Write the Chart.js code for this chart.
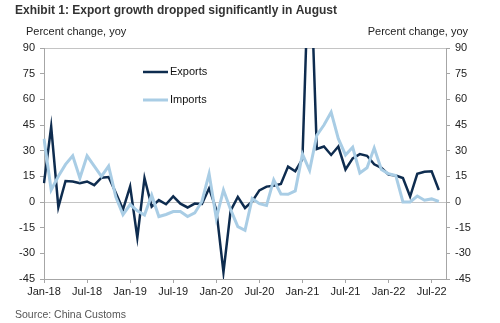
<!DOCTYPE html>
<html>
<head>
<meta charset="utf-8">
<script src="https://cdn.jsdelivr.net/npm/chart.js@4/dist/chart.umd.min.js"></script>
<style>
  body { margin: 0; background: #fff; }
  #wrap { width: 500px; height: 323px; }
</style>
</head>
<body>
<div id="wrap"><canvas id="grafico" width="500" height="323"></canvas></div>
<script>
// ---------------- data ----------------
const mesi = [];
const nomiMesi = ["Jan","Feb","Mar","Apr","May","Jun","Jul","Aug","Sep","Oct","Nov","Dec"];
for (let a = 18; a <= 22; a++) {
    for (let m = 0; m < 12; m++) {
        if (a === 22 && m > 8) break;
        mesi.push(nomiMesi[m] + "-" + a);
    }
}
// Jan-18 .. Aug-22 (last category Sep-22 is empty space)
const exports = [11, 44, -3, 12.3, 12, 11, 12, 9.8, 14.2, 14.6, 5.4, -4.4,
    9.1, -20.8, 14, -2.7, 1.1, -1.3, 3.3, -1, -3.2, -0.9, -1.1, 8,
    -4.5, -41, -5, 3, -3.5, 0.3, 6.8, 9, 9.5, 10.5, 20.7, 18,
    25, 155, 31, 32.4, 27.5, 32.4, 19, 25.5, 28, 27, 22, 20,
    16, 15.5, 14, 3.2, 16.5, 17.7, 18, 7];
const imports = [37, 7, 15, 22, 27, 14, 27, 21, 15, 21, 3, -7.4,
    -1.5, -5.2, -7.6, 4, -8.5, -7.3, -5.6, -5.6, -8.5, -6.4, 0.3, 16.5,
    -9.5, 7, -4.5, -14.4, -16.5, 2, -1, -2, 13, 4.7, 4.5, 6.5,
    28, 18.5, 39, 45, 52.5, 37, 27.5, 32, 17, 20, 31.5, 19,
    16.5, 15.5, 0, 0, 3.5, 1, 1.8, 0.3];
const etichetteX = ["Jan-18","Jul-18","Jan-19","Jul-19","Jan-20","Jul-20","Jan-21","Jul-21","Jan-22","Jul-22"];
const yMin = -45, yMax = 90, yPasso = 15;

const coloreExp = "#0e2c4f";
const coloreImp = "#a9cde5";
const grigio = "#a6a6a6";
const font = "'Liberation Sans', Arial, sans-serif";

// ---------------- testi e legenda ----------------
const testiPlugin = {
    id: "testi",
    afterDraw(chart) {
        const ctx = chart.ctx;
        ctx.save();
        ctx.fillStyle = "#333";
        ctx.font = "bold 12px " + font;
        ctx.textBaseline = "middle";
        ctx.textAlign = "left";
        ctx.fillText("Exhibit 1: Export growth dropped significantly in August", 15, 11);

        ctx.font = "11px " + font;
        ctx.fillStyle = "#222";
        ctx.fillText("Percent change, yoy", 26, 32);
        ctx.textAlign = "right";
        ctx.fillText("Percent change, yoy", 468, 32);

        ctx.textAlign = "left";
        ctx.fillStyle = "#555";
        ctx.font = "10.5px " + font;
        ctx.fillText("Source: China Customs", 15, 315);

        // legenda
        const voci = [["Exports", coloreExp, 2.5, 72], ["Imports", coloreImp, 3, 100]];
        voci.forEach(v => {
            ctx.strokeStyle = v[1];
            ctx.lineWidth = v[2];
            ctx.beginPath();
            ctx.moveTo(143, v[3]);
            ctx.lineTo(168, v[3]);
            ctx.stroke();
            ctx.fillStyle = "#111";
            ctx.font = "11px " + font;
            ctx.fillText(v[0], 170, v[3]);
        });
        ctx.restore();
    }
};

const tickY = {
    color: "#222",
    font: { family: font, size: 11 },
    stepSize: yPasso,
    padding: 5
};

new Chart(document.getElementById("grafico"), {
    type: "line",
    data: {
        labels: mesi,
        datasets: [
            { label: "Exports", data: exports, borderColor: coloreExp, borderWidth: 2.5, order: 1 },
            { label: "Imports", data: imports, borderColor: coloreImp, borderWidth: 3, order: 0 }
        ]
    },
    options: {
        responsive: false,
        animation: false,
        devicePixelRatio: 1,
        layout: { padding: { top: 48, left: 0, right: 0, bottom: 0 } },
        elements: { point: { radius: 0 }, line: { tension: 0 } },
        plugins: { legend: { display: false }, tooltip: { enabled: false } },
        scales: {
            x: {
                type: "category",
                offset: false,
                afterFit: s => { s.height = 44; },
                grid: { drawOnChartArea: false, drawTicks: true, tickLength: 4, tickColor: grigio },
                border: { color: grigio },
                ticks: {
                    autoSkip: false,
                    maxRotation: 0,
                    padding: 2,
                    color: "#222",
                    font: { family: font, size: 11 },
                    callback: (v, i) => (i % 6 === 0 && i / 6 < etichetteX.length) ? etichetteX[i / 6] : null
                }
            },
            y: {
                position: "left",
                min: yMin, max: yMax,
                afterFit: s => { s.width = 44; },
                grid: {
                    color: c => (c.tick && (c.tick.value === 0 || c.tick.value === yMax)) ? "#c4c4c4" : "rgba(0,0,0,0)",
                    tickColor: grigio, tickLength: 4
                },
                border: { color: grigio },
                ticks: tickY
            },
            y2: {
                position: "right",
                min: yMin, max: yMax,
                afterFit: s => { s.width = 54; },
                grid: { drawOnChartArea: false, tickColor: grigio, tickLength: 4 },
                border: { color: grigio },
                ticks: tickY
            }
        }
    },
    plugins: [testiPlugin]
});
</script>
</body>
</html>
